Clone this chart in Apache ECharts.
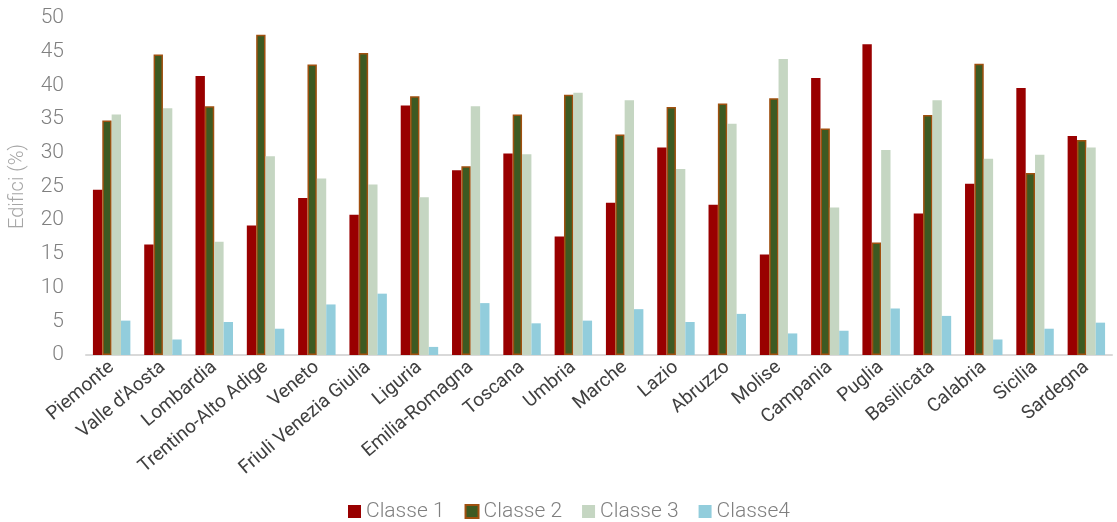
<!DOCTYPE html>
<html><head><meta charset="utf-8">
<script src="https://cdn.jsdelivr.net/npm/echarts@6/dist/echarts.min.js"></script>
<style>html,body{margin:0;padding:0;background:#fff}#c{width:1117px;height:522px}</style>
</head><body><div id="c"></div>
<script>
const categories = ["Piemonte","Valle d'Aosta","Lombardia","Trentino-Alto Adige","Veneto","Friuli Venezia Giulia","Liguria","Emilia-Romagna","Toscana","Umbria","Marche","Lazio","Abruzzo","Molise","Campania","Puglia","Basilicata","Calabria","Sicilia","Sardegna"];
const classe1 = [24.5,16.4,41.4,19.2,23.3,20.8,37.0,27.4,29.9,17.6,22.6,30.8,22.3,14.9,41.1,46.1,21.0,25.4,39.6,32.5];
const classe2 = [34.8,44.6,36.9,47.5,43.1,44.8,38.4,28.0,35.7,38.6,32.7,36.8,37.3,38.1,33.6,16.7,35.6,43.2,27.0,31.9];
const classe3 = [35.7,36.6,16.8,29.5,26.2,25.3,23.4,36.9,29.8,38.9,37.8,27.6,34.3,43.9,21.9,30.4,37.8,29.1,29.7,30.8];
const classe4 = [5.1,2.3,4.9,3.9,7.5,9.1,1.2,7.7,4.7,5.1,6.8,4.9,6.1,3.2,3.6,6.9,5.8,2.3,3.9,4.8];
const seriesNames = ["Classe 1","Classe 2","Classe 3","Classe4"];
const yTicks = [0,5,10,15,20,25,30,35,40,45,50];

const font = "Roboto, sans-serif";
const chart = echarts.init(document.getElementById('c'), null, {renderer:'canvas'});
chart.setOption({
  animation:false,
  grid:{left:84,right:5,top:18,bottom:167},
  legend:{
    top:496,left:343,itemWidth:13,itemHeight:13,itemGap:20,icon:'rect',
    textStyle:{fontFamily:font,fontWeight:300,fontSize:21,color:'#7f7f7f'},
    data:seriesNames
  },
  xAxis:{
    type:'category',data:categories,
    axisLine:{lineStyle:{color:'#d9d9d9',width:2}},
    axisTick:{show:false},
    axisLabel:{rotate:40,interval:0,fontFamily:font,fontSize:19,color:'#404040',margin:10}
  },
  yAxis:{
    type:'value',min:0,max:50,interval:5,
    name:'Edifici (%)',nameLocation:'middle',nameGap:58,
    nameTextStyle:{fontFamily:font,fontWeight:300,fontSize:20,color:'#a6a6a6'},
    axisLine:{show:false},axisTick:{show:false},splitLine:{show:false},
    axisLabel:{fontFamily:font,fontWeight:300,fontSize:21,color:'#808080',margin:22,
      formatter:v=>yTicks.includes(v)?String(v):''}
  },
  series:[
    {name:seriesNames[0],type:'bar',data:classe1,barGap:'0%',barCategoryGap:'27%',
     itemStyle:{color:'#990000'}},
    {name:seriesNames[1],type:'bar',data:classe2,barGap:'0%',barCategoryGap:'27%',
     itemStyle:{color:'#3d5a22',borderColor:'#a0500f',borderWidth:1.5}},
    {name:seriesNames[2],type:'bar',data:classe3,barGap:'0%',barCategoryGap:'27%',
     itemStyle:{color:'#c5d6c2'}},
    {name:seriesNames[3],type:'bar',data:classe4,barGap:'0%',barCategoryGap:'27%',
     itemStyle:{color:'#92cddc'}}
  ]
});
</script></body></html>
